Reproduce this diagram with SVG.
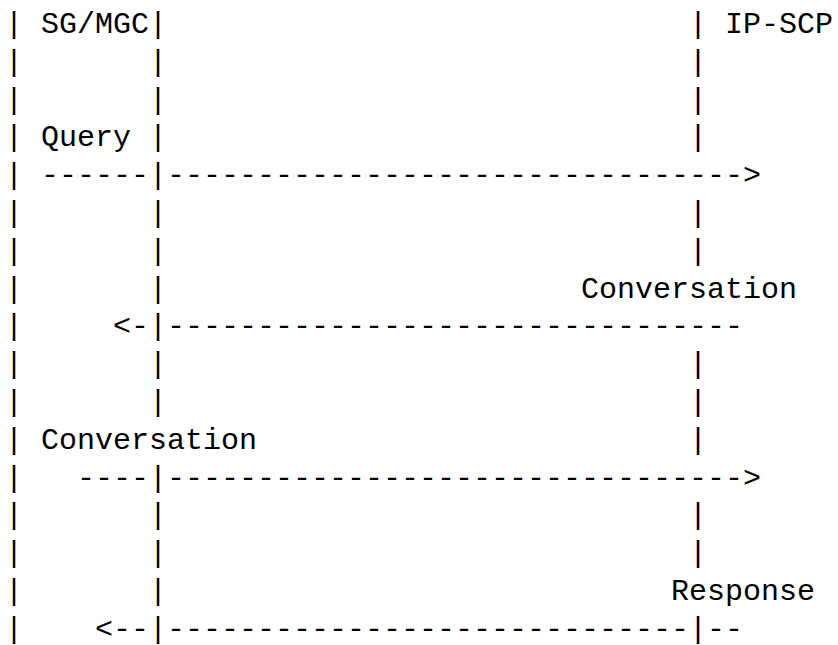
<svg xmlns="http://www.w3.org/2000/svg" width="838" height="645" viewBox="0 0 838 645">
  <style>
    .t { font-family: "Liberation Mono", "DejaVu Sans Mono", monospace; font-size: 30px; fill: #000; white-space: pre; }
  </style>
  <rect width="838" height="645" fill="#fff"/>

  <!-- character grid: column c starts at x = 5 + 18c, row r baseline at y = 33 + 37.8r -->

  <!-- leftmost lifeline -->
  <g id="lifeline-left">
    <text class="t">
      <tspan x="5" y="33">|</tspan><tspan x="5" y="70.8">|</tspan><tspan x="5" y="108.6">|</tspan>
      <tspan x="5" y="146.4">|</tspan><tspan x="5" y="184.2">|</tspan><tspan x="5" y="222">|</tspan>
      <tspan x="5" y="259.8">|</tspan><tspan x="5" y="297.6">|</tspan><tspan x="5" y="335.4">|</tspan>
      <tspan x="5" y="373.2">|</tspan><tspan x="5" y="411">|</tspan><tspan x="5" y="448.8">|</tspan>
      <tspan x="5" y="486.6">|</tspan><tspan x="5" y="524.4">|</tspan><tspan x="5" y="562.2">|</tspan>
      <tspan x="5" y="600">|</tspan><tspan x="5" y="637.8">|</tspan>
    </text>
  </g>

  <!-- SG/MGC entity and its lifeline -->
  <g id="node-sg-mgc">
    <text class="t" x="41" y="33">SG/MGC</text>
    <text class="t">
      <tspan x="149" y="33">|</tspan><tspan x="149" y="70.8">|</tspan><tspan x="149" y="108.6">|</tspan>
      <tspan x="149" y="146.4">|</tspan><tspan x="149" y="184.2">|</tspan><tspan x="149" y="222">|</tspan>
      <tspan x="149" y="259.8">|</tspan><tspan x="149" y="297.6">|</tspan><tspan x="149" y="335.4">|</tspan>
      <tspan x="149" y="373.2">|</tspan><tspan x="149" y="411">|</tspan>
      <tspan x="149" y="486.6">|</tspan><tspan x="149" y="524.4">|</tspan><tspan x="149" y="562.2">|</tspan>
      <tspan x="149" y="600">|</tspan><tspan x="149" y="637.8">|</tspan>
    </text>
  </g>

  <!-- IP-SCP entity and its lifeline -->
  <g id="node-ip-scp">
    <text class="t" x="725" y="33">IP-SCP</text>
    <text class="t">
      <tspan x="689" y="33">|</tspan><tspan x="689" y="70.8">|</tspan><tspan x="689" y="108.6">|</tspan>
      <tspan x="689" y="146.4">|</tspan><tspan x="689" y="222">|</tspan><tspan x="689" y="259.8">|</tspan>
      <tspan x="689" y="373.2">|</tspan><tspan x="689" y="411">|</tspan><tspan x="689" y="448.8">|</tspan>
      <tspan x="689" y="524.4">|</tspan><tspan x="689" y="562.2">|</tspan><tspan x="689" y="637.8">|</tspan>
    </text>
  </g>

  <!-- message arrows -->
  <g id="connectors">
    <!-- Query -->
    <text class="t" x="41" y="184.2">------</text>
    <text class="t" x="167" y="184.2">--------------------------------&gt;</text>
    <!-- Conversation (IP-SCP to left) -->
    <text class="t" x="113" y="335.4">&lt;-</text>
    <text class="t" x="167" y="335.4">--------------------------------</text>
    <!-- Conversation (left to IP-SCP) -->
    <text class="t" x="77" y="486.6">----</text>
    <text class="t" x="167" y="486.6">--------------------------------&gt;</text>
    <!-- Response -->
    <text class="t" x="95" y="637.8">&lt;--</text>
    <text class="t" x="167" y="637.8">-----------------------------</text>
    <text class="t" x="707" y="637.8">--</text>
  </g>

  <!-- message labels -->
  <g id="labels">
    <text class="t" x="41" y="146.4">Query</text>
    <text class="t" x="581" y="297.6">Conversation</text>
    <text class="t" x="41" y="448.8">Conversation</text>
    <text class="t" x="671" y="600">Response</text>
  </g>
</svg>
